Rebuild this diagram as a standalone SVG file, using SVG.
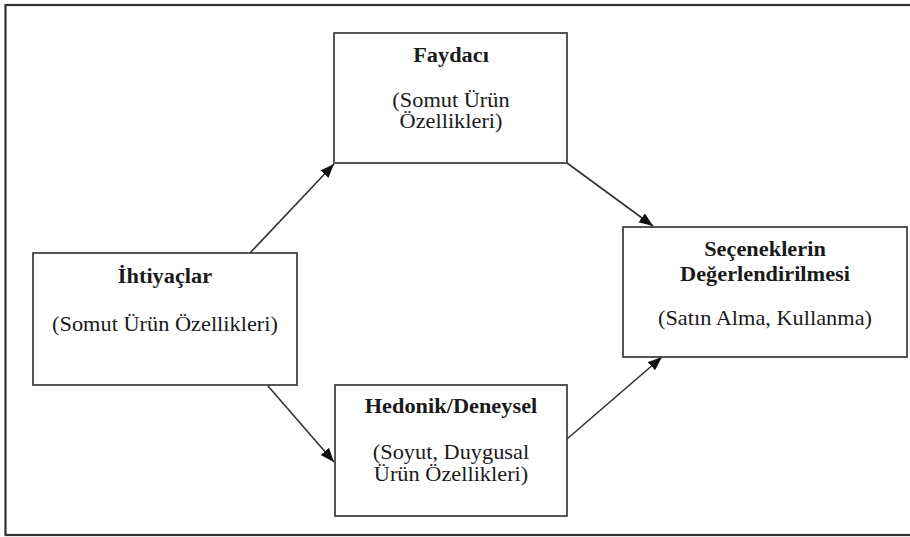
<svg xmlns="http://www.w3.org/2000/svg" width="910" height="537" viewBox="0 0 910 537">
<style>
.frame{fill:none;stroke:#333;stroke-width:2.2}
.box{fill:#fff;stroke:#3a3a3a;stroke-width:1.7}
.t{font-family:"Liberation Serif","Times New Roman",serif;font-size:20.5px;fill:#1a1a1a;text-anchor:middle}
.b{font-weight:bold}
.conn{stroke:#333;stroke-width:1.6;fill:none}
</style>
<defs>
<marker id="ah" markerUnits="userSpaceOnUse" markerWidth="16" markerHeight="12" refX="14" refY="5.5" orient="auto">
<path d="M0,0 L14,5.5 L0,11 Z" fill="#111"/>
</marker>
</defs>
<rect width="910" height="537" fill="#fff"/>
<rect class="frame" x="5.5" y="5" width="910" height="530"/>
<g id="connectors">
<line class="conn" x1="250" y1="253" x2="334" y2="164" marker-end="url(#ah)"/>
<line class="conn" x1="567" y1="163" x2="653" y2="226" marker-end="url(#ah)"/>
<line class="conn" x1="268" y1="386" x2="334" y2="462" marker-end="url(#ah)"/>
<line class="conn" x1="567" y1="439" x2="662" y2="357" marker-end="url(#ah)"/>
</g>
<g id="faydaci">
<rect class="box" x="334" y="33" width="233" height="130"/>
<g transform="translate(451,0) scale(1.09,1)">
<text class="t b" x="0" y="62">Faydacı</text>
<text class="t" x="0" y="107">(Somut Ürün</text>
<text class="t" x="0" y="128">Özellikleri)</text>
</g>
</g>
<g id="ihtiyaclar">
<rect class="box" x="33" y="253" width="264" height="132"/>
<g transform="translate(165,0) scale(1.09,1)">
<text class="t b" x="0" y="283">İhtiyaçlar</text>
<text class="t" x="0" y="331">(Somut Ürün Özellikleri)</text>
</g>
</g>
<g id="hedonik">
<rect class="box" x="335" y="385" width="232" height="131"/>
<g transform="translate(451,0) scale(1.09,1)">
<text class="t b" x="0" y="413">Hedonik/Deneysel</text>
<text class="t" x="0" y="459">(Soyut, Duygusal</text>
<text class="t" x="0" y="481">Ürün Özellikleri)</text>
</g>
</g>
<g id="secenekler">
<rect class="box" x="623" y="227" width="284" height="130"/>
<g transform="translate(765,0) scale(1.09,1)">
<text class="t b" x="0" y="256">Seçeneklerin</text>
<text class="t b" x="0" y="281">Değerlendirilmesi</text>
<text class="t" x="0" y="325">(Satın Alma, Kullanma)</text>
</g>
</g>
</svg>
